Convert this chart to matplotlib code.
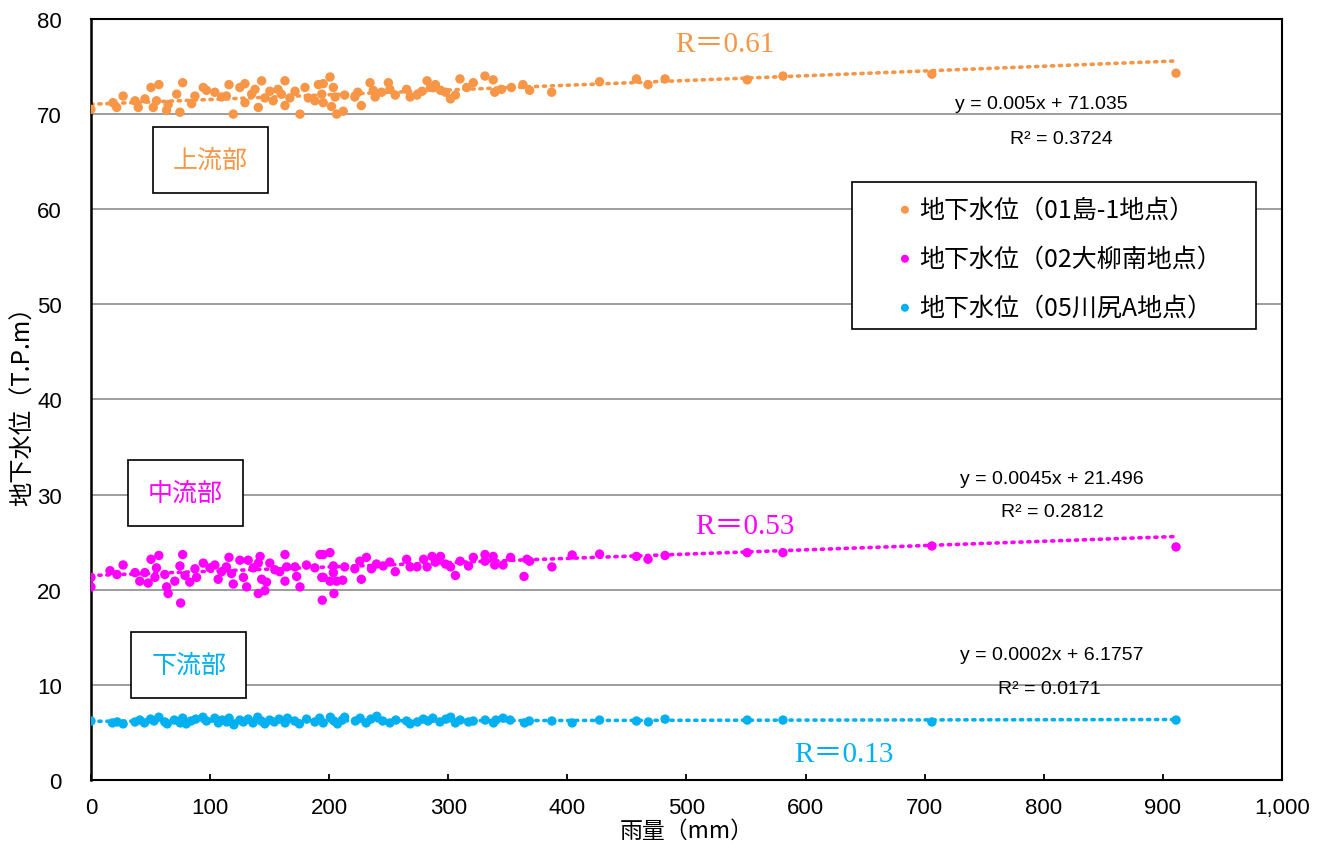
import numpy as np
import matplotlib
matplotlib.use("Agg")
import matplotlib.pyplot as plt
from matplotlib.patches import Rectangle
from matplotlib.ticker import FuncFormatter

plt.rcParams['font.family'] = ['Noto Sans CJK JP', 'DejaVu Sans']

# ----------------------------
# Data
# ----------------------------
up_x = [0, 18.5, 21.6, 27, 37, 39.7, 45.3, 50.4, 52.3, 57, 55, 63.5, 64.8, 72, 74.7, 77,
        84.5, 87.3, 94.3, 97, 104, 109.7, 113.7, 115.9, 119.5, 125, 129.3, 129.3, 134.9,
        137.7, 140.5, 143.3, 146, 150.2, 153, 157, 159.8, 162.9, 162.9, 167, 171.3, 175.5,
        179.7, 182.5, 188, 191, 193.8, 195, 200.7, 203.5, 205, 195, 202, 206.3, 211.8, 213,
        221.5, 227, 224, 234.3, 237, 238.6, 244, 249.7, 251, 255.5, 265, 268, 273.7, 278,
        282.2, 285, 289.2, 293.5, 297.7, 301.9, 306, 309.8, 315.5, 321, 330.8, 337.7, 339,
        344.6, 353, 362.7, 368.3, 386.8, 427, 458, 467.7, 482, 551, 581, 706, 911]
up_y = [70.5, 71.2, 70.7, 71.9, 71.4, 70.7, 71.6, 72.8, 70.7, 73.1, 71.4, 70.4, 71.0, 72.1,
        70.2, 73.3, 71.1, 71.9, 72.8, 72.5, 72.3, 71.8, 71.9, 73.1, 70.0, 72.8, 73.2, 71.2,
        72.1, 72.6, 70.7, 73.5, 71.7, 72.4, 71.4, 72.6, 72.1, 73.5, 70.9, 71.7, 72.4, 70.0,
        72.8, 71.7, 71.4, 73.1, 72.1, 73.2, 73.9, 72.8, 71.8, 71.2, 70.8, 70.0, 70.3, 72.0,
        71.8, 70.9, 72.3, 73.3, 72.5, 71.8, 72.3, 73.3, 72.6, 72.0, 72.6, 71.8, 72.0, 72.4,
        73.5, 72.8, 73.1, 72.5, 72.3, 71.6, 72.0, 73.7, 72.8, 73.3, 74.0, 73.6, 72.3,
        72.6, 72.8, 73.1, 72.5, 72.3, 73.4, 73.7, 73.1, 73.7, 73.6, 74.0, 74.2, 74.3]

mid_x = [0, 0, 16, 21.8, 27, 37, 41, 45.3, 48, 50.4, 57, 55, 53.7, 62, 63.5, 64.8, 70.4,
         74.7, 75.3, 77, 79, 83, 87.3, 88.7, 94.3, 99.9, 104, 106.8, 109.7, 113.7, 115.9,
         118, 119.5, 125, 128, 130.7, 132, 136.3, 140.5, 142, 140.5, 143.3, 146, 147.4,
         150.2, 154.4, 158.5, 162.9, 162.9, 164.3, 171.3, 172.7, 175.5, 181, 188, 192.3,
         194.2, 193.8, 200.7, 195, 203.5, 203.5, 195, 200.7, 206.3, 211.4, 204, 213, 221.5,
         225.7, 227, 231.3, 235.5, 239.7, 245.3, 250.9, 255.5, 265, 268, 273.7, 279.3,
         282.2, 286.4, 289.2, 293.5, 297.7, 301.9, 306, 310, 317, 321, 330.8, 330.8, 337.7,
         339, 346, 352.3, 363.6, 366, 368.3, 387, 404, 427, 458, 467.7, 482, 551, 581, 706,
         911]
mid_y = [21.3, 20.3, 22.0, 21.6, 22.6, 21.8, 20.9, 21.8, 20.7, 23.2, 23.6, 22.3, 21.3, 21.6,
         20.3, 19.6, 20.9, 22.5, 18.6, 23.7, 21.5, 20.8, 22.2, 21.3, 22.8, 22.3, 22.6, 21.1,
         21.9, 22.4, 23.4, 21.7, 20.6, 23.1, 21.3, 20.3, 23.1, 22.3, 22.8, 23.5, 19.6, 21.1,
         19.9, 20.8, 22.8, 22.1, 21.9, 23.7, 20.9, 22.4, 22.4, 21.4, 20.3, 22.6, 22.3, 23.7,
         18.9, 21.3, 23.9, 23.7, 22.5, 21.8, 21.3, 20.9, 20.9, 21.0, 19.6, 22.4, 22.2, 23.0,
         21.1, 23.4, 22.2, 22.7, 22.5, 22.9, 21.9, 23.2, 22.4, 22.4, 23.2, 22.4, 23.5, 22.9,
         23.5, 22.7, 22.4, 21.5, 23.0, 22.5, 23.4, 23.7, 23.0, 23.5, 22.6, 22.6, 23.4, 21.4,
         23.2, 23.0, 22.4, 23.65, 23.75, 23.5, 23.2, 23.6, 23.9, 23.9, 24.6, 24.5]

low_x = [0, 18, 22, 27, 37, 41, 45, 50, 53, 57, 62, 64, 70, 75, 77, 80, 84, 88, 94, 97, 104,
         107, 110, 114, 116, 120, 125, 128, 132, 136, 140, 143, 146, 150, 154, 158, 163, 165,
         171, 175, 181, 188, 192, 195, 201, 204, 207, 211, 213, 222, 226, 231, 235, 240, 245,
         251, 256, 265, 268, 274, 279, 283, 287, 293, 298, 302, 306, 310, 317, 321, 331, 338,
         340, 346, 352, 364, 368, 387, 404, 427, 458, 468, 482, 551, 581, 706, 911]
low_y = [6.2, 6.0, 6.1, 5.9, 6.1, 6.3, 6.0, 6.4, 6.2, 6.6, 6.1, 5.9, 6.3, 6.0, 6.5, 5.9, 6.2,
         6.4, 6.6, 6.2, 6.5, 6.0, 6.3, 6.1, 6.5, 5.8, 6.3, 6.1, 6.4, 6.0, 6.6, 6.2, 5.9, 6.3,
         6.1, 6.4, 6.0, 6.5, 6.2, 5.9, 6.4, 6.1, 6.5, 6.0, 6.6, 6.2, 5.9, 6.3, 6.6, 6.2, 6.5,
         6.0, 6.4, 6.7, 6.2, 6.0, 6.3, 6.2, 5.9, 6.1, 6.4, 6.2, 6.5, 6.1, 6.4, 6.6, 6.0, 6.3,
         6.1, 6.2, 6.3, 6.0, 6.3, 6.5, 6.3, 6.0, 6.2, 6.2, 6.0, 6.3, 6.2, 6.1, 6.4, 6.3, 6.3,
         6.1, 6.3]

# trendline coefficients as printed on the chart
slopes = [0.005, 0.0045, 0.0002]
intercepts = [71.035, 21.496, 6.1757]
eq_lines = ["y = 0.005x + 71.035", "y = 0.0045x + 21.496", "y = 0.0002x + 6.1757"]
r2_lines = ["R² = 0.3724", "R² = 0.2812", "R² = 0.0171"]
r_texts = ["R＝0.61", "R＝0.53", "R＝0.13"]
zone_names = ["上流部", "中流部", "下流部"]
legend_names = ["地下水位（01島-1地点）", "地下水位（02大柳南地点）", "地下水位（05川尻A地点）"]
colors = ["#F79646", "#FF00FF", "#00B0F0"]

# ----------------------------
# Plot
# ----------------------------
fig = plt.figure(figsize=(13.24, 8.54), dpi=100)
ax = fig.add_axes([0.0687, 0.0855, 0.8996, 0.8911])

series = [(up_x, up_y), (mid_x, mid_y), (low_x, low_y)]
for (xs, ys), c, name, m, b in zip(series, colors, legend_names, slopes, intercepts):
    ax.scatter(xs, ys, s=46, color=c, edgecolors="none", label=name, zorder=3)
    xl = np.array([min(xs), max(xs)])
    ax.plot(xl, m * xl + b, linestyle=(0, (0.6, 1.6)), color=c, lw=2.6,
            dash_capstyle="round", zorder=2)

ax.set_xlim(0, 1000)
ax.set_ylim(0, 80)
ax.set_xticks(np.arange(0, 1001, 100))
ax.set_yticks(np.arange(0, 81, 10))
ax.xaxis.set_major_formatter(FuncFormatter(lambda v, p: f"{int(v):,}"))
ax.grid(axis="y", color="#8c8c8c", lw=1.2)
ax.set_axisbelow(True)
for s in ax.spines.values():
    s.set_color("black")
    s.set_linewidth(1.5)
ax.spines["left"].set_linewidth(1.8)
ax.tick_params(axis="x", direction="in", length=4, width=1.3, color="black",
               labelsize=16, pad=12)
ax.tick_params(axis="y", length=0, labelsize=16, pad=21)
for lbl in ax.get_xticklabels() + ax.get_yticklabels():
    lbl.set_fontfamily(["Liberation Sans", "DejaVu Sans"])

ax.set_xlabel("雨量（mm）", fontsize=16.5, labelpad=1)
ax.set_ylabel("地下水位（T.P.m）", fontsize=17.5, labelpad=1)

# equation labels (two lines each)
eq_pos = [(798, 71.1), (807, 31.65), (807, 13.15)]
r2_pos = [(815, 67.4), (807, 28.2), (805, 9.6)]
for (x, y), t in zip(eq_pos, eq_lines):
    ax.text(x, y, t, ha="center", va="center", fontsize=14,
            family=["Liberation Sans", "DejaVu Sans"])
for (x, y), t in zip(r2_pos, r2_lines):
    ax.text(x, y, t, ha="center", va="center", fontsize=14,
            family=["Liberation Sans", "DejaVu Sans"])

# correlation labels
r_pos = [(532, 77.4), (549, 26.7), (632, 2.75)]
for (x, y), t, c in zip(r_pos, r_texts, colors):
    ax.text(x, y, t, ha="center", va="center", fontsize=21, color=c,
            family=["Liberation Serif", "Noto Sans CJK JP"])

# zone boxes
zone_pos = [(100, 65.2), (79, 30.2), (82, 12.1)]
for (x, y), t, c in zip(zone_pos, zone_names, colors):
    ax.text(x, y, t, ha="center", va="center", fontsize=18, color=c,
            bbox=dict(boxstyle="square,pad=0.8", fc="white", ec="black", lw=1.2))

# legend: frame drawn separately so the entries can sit where they do in Excel
ax.add_patch(Rectangle((0.639, 0.593), 0.339, 0.193, transform=ax.transAxes,
                       fc="white", ec="black", lw=1.2, zorder=4))
leg = ax.legend(loc="upper left", bbox_to_anchor=(0.675, 0.767), fontsize=18,
                frameon=False, markerscale=0.85, handletextpad=0.15,
                labelspacing=0.92, borderpad=0, handlelength=0.8, borderaxespad=0)
leg.set_zorder(5)

fig.savefig("out.png", dpi=100)
